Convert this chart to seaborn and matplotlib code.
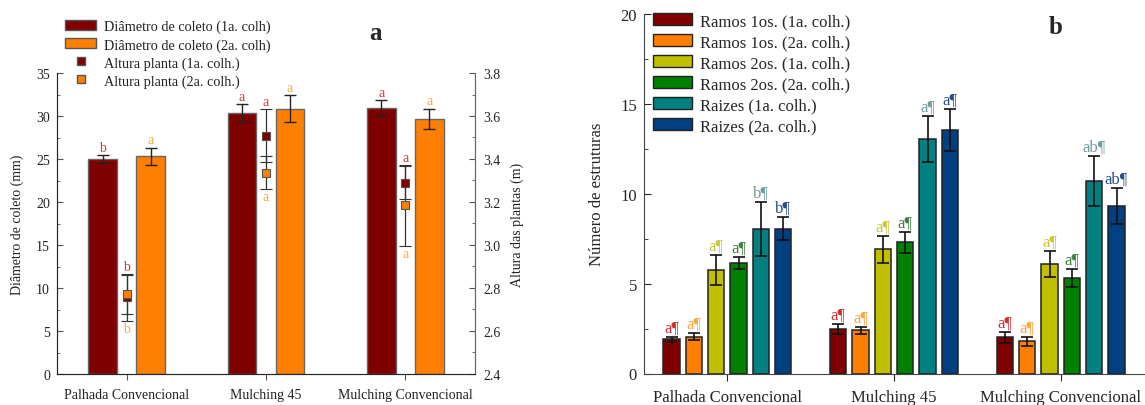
import matplotlib
matplotlib.use("Agg")
import matplotlib.pyplot as plt
from matplotlib.patches import Patch
from matplotlib.lines import Line2D
from matplotlib.ticker import MultipleLocator
import seaborn as sns
import pandas as pd
import numpy as np

sns.set_style("ticks")
plt.rcParams["font.family"] = ["Liberation Serif", "DejaVu Serif"]

categories = ["Palhada Convencional", "Mulching 45", "Mulching Convencional"]

# panel a - diametro de coleto (bars, left axis) and altura (points, right axis)
diam_1a = [25.0, 30.3, 30.9]
diam_1a_err = [0.45, 1.05, 0.95]
diam_1a_let = ["b", "a", "a"]
diam_2a = [25.3, 30.85, 29.65]
diam_2a_err = [1.0, 1.6, 1.2]
diam_2a_let = ["a", "a", "a"]
alt_1a = [2.756, 3.509, 3.29]
alt_1a_err = [0.109, 0.124, 0.078]
alt_1a_let = ["b", "a", "a"]
alt_2a = [2.77, 3.337, 3.184]
alt_2a_err = [0.091, 0.077, 0.187]
alt_2a_let = ["b", "a", "a"]

# panel b - numero de estruturas
ramos1_1a = [1.9, 2.48, 2.02]
ramos1_1a_err = [0.15, 0.28, 0.3]
ramos1_2a = [2.05, 2.4, 1.8]
ramos1_2a_err = [0.2, 0.2, 0.25]
ramos2_1a = [5.75, 6.9, 6.1]
ramos2_1a_err = [0.83, 0.74, 0.73]
ramos2_2a = [6.15, 7.3, 5.3]
ramos2_2a_err = [0.33, 0.57, 0.5]
raizes_1a = [8.05, 13.05, 10.7]
raizes_1a_err = [1.5, 1.27, 1.4]
raizes_2a = [8.05, 13.55, 9.3]
raizes_2a_err = [0.65, 1.17, 1.0]
letters_b = [["a", "a", "a"], ["a", "a", "a"], ["a", "a", "a"],
             ["a", "a", "a"], ["b", "a", "ab"], ["b", "a", "ab"]]

names_a = ["Diâmetro de coleto (1a. colh)", "Diâmetro de coleto (2a. colh)"]
names_pts = ["Altura planta (1a. colh.)", "Altura planta (2a. colh.)"]
names_b = ["Ramos 1os. (1a. colh.)", "Ramos 1os. (2a. colh.)", "Ramos 2os. (1a. colh.)",
           "Ramos 2os. (2a. colh.)", "Raizes (1a. colh.)", "Raizes (2a. colh.)"]
colors_b = ["#800000", "#ff8000", "#c0c000", "#008000", "#008080", "#004080"]
letcol_b = ["#d03030", "#ffa53a", "#c8c83a", "#3f7f3f", "#6f9d9d", "#2c4c88"]
red_let, orange_let = "#d03a3a", "#ffaa33"

df_a = pd.DataFrame({"cat": categories * 2,
                     "val": diam_1a + diam_2a,
                     "serie": [names_a[0]] * 3 + [names_a[1]] * 3})
vals_b = [ramos1_1a, ramos1_2a, ramos2_1a, ramos2_2a, raizes_1a, raizes_2a]
errs_b = [ramos1_1a_err, ramos1_2a_err, ramos2_1a_err, ramos2_2a_err, raizes_1a_err, raizes_2a_err]
df_b = pd.DataFrame({"cat": categories * 6,
                     "val": sum(vals_b, []),
                     "serie": [n for n in names_b for _ in categories]})

fig = plt.figure(figsize=(11.45, 4.06), dpi=100)
ax = fig.add_axes([57 / 1145, 31 / 406, 418 / 1145, 301 / 406])
axb = fig.add_axes([644 / 1145, 31.5 / 406, 500 / 1145, 359.5 / 406])

# ---------- panel a ----------
sns.barplot(data=df_a, x="cat", y="val", hue="serie", palette=["#800000", "#ff8000"],
            saturation=1, width=0.69, gap=0.4, errorbar=None, edgecolor="#666666", linewidth=1,
            legend=False, ax=ax)
bars = list(ax.containers)
for cont, errs, lets, lc in zip(bars, [diam_1a_err, diam_2a_err], [diam_1a_let, diam_2a_let],
                                [red_let, orange_let]):
    xs = [p.get_x() + p.get_width() / 2 for p in cont]
    ys = [p.get_height() for p in cont]
    ax.errorbar(xs, ys, yerr=errs, fmt="none", ecolor="#222222", elinewidth=1, capsize=4, capthick=1)
    for x, y, e, t in zip(xs, ys, errs, lets):
        ax.annotate(t, (x, y + e), xytext=(0, 1), textcoords="offset points",
                    ha="center", va="bottom", color=lc, fontsize=10)
ax.set_xlim(-0.5, 2.5)
ax.set_ylim(0, 35)
ax.yaxis.set_major_locator(MultipleLocator(5))
ax.yaxis.set_minor_locator(MultipleLocator(2.5))
ax.set_xlabel("")
ax.set_ylabel("Diâmetro de coleto (mm)", fontsize=10, color="#222222")
ax.yaxis.set_label_coords(-0.079, 0.5)
ax.tick_params(axis="y", direction="in", length=4, labelsize=10, pad=5, colors="#555555", labelcolor="#222222")
ax.tick_params(axis="y", which="minor", direction="in", length=2, colors="#555555")
ax.tick_params(axis="x", direction="out", length=4, labelsize=10, pad=6, colors="#555555", labelcolor="#222222")
ax.spines["top"].set_visible(False)
for s in ["left", "bottom", "right"]:
    ax.spines[s].set_color("#666666")

ax2 = ax.twinx()
xpos = np.arange(len(categories))
ax2.errorbar(xpos, alt_1a, yerr=alt_1a_err, fmt="s", color="#800000", mec="#555555", mew=0.8,
             ms=6, ecolor="#333333", elinewidth=0.9, capsize=4, capthick=0.9, zorder=3)
ax2.errorbar(xpos, alt_2a, yerr=alt_2a_err, fmt="s", color="#ff8000", mec="#555555", mew=0.8,
             ms=6, ecolor="#333333", elinewidth=0.9, capsize=4, capthick=0.9, zorder=4)
tops = np.maximum(np.add(alt_1a, alt_1a_err), np.add(alt_2a, alt_2a_err))
bottoms = np.minimum(np.subtract(alt_1a, alt_1a_err), np.subtract(alt_2a, alt_2a_err))
for x, y, t in zip(xpos, tops, alt_1a_let):
    ax2.annotate(t, (x, y), xytext=(0, 1), textcoords="offset points",
                 ha="center", va="bottom", color=red_let, fontsize=10)
for x, y, t in zip(xpos, bottoms, alt_2a_let):
    ax2.annotate(t, (x, y), xytext=(0, -1), textcoords="offset points",
                 ha="center", va="top", color=orange_let, fontsize=10)
ax2.set_ylim(2.4, 3.8)
ax2.yaxis.set_major_locator(MultipleLocator(0.2))
ax2.yaxis.set_minor_locator(MultipleLocator(0.1))
ax2.set_ylabel("Altura das plantas (m)", fontsize=10, color="#222222")
ax2.yaxis.set_label_coords(1.086, 0.5)
ax2.tick_params(axis="y", direction="in", length=4, labelsize=10, pad=6, colors="#555555", labelcolor="#222222")
ax2.tick_params(axis="y", which="minor", direction="in", length=2, colors="#555555")
ax2.spines["top"].set_visible(False)
ax2.spines["right"].set_color("#666666")

handles_a = [Patch(facecolor="#800000", edgecolor="#555555"),
             Patch(facecolor="#ff8000", edgecolor="#555555"),
             Line2D([], [], marker="s", ls="none", color="#800000", mec="#555555", ms=6),
             Line2D([], [], marker="s", ls="none", color="#ff8000", mec="#555555", ms=6)]
ax.legend(handles_a, names_a + names_pts, loc="upper left", bbox_to_anchor=(65 / 1145, 1 - 21 / 406),
          bbox_transform=fig.transFigure, frameon=False, fontsize=10.3, borderpad=0, borderaxespad=0,
          handlelength=2.2, handletextpad=0.55, labelspacing=0.32, labelcolor="#222222")
fig.text(375 / 1145, 1 - 33 / 406, "a", fontsize=18, fontweight="bold", ha="center", va="center")

# ---------- panel b ----------
sns.barplot(data=df_b, x="cat", y="val", hue="serie", palette=colors_b, saturation=1,
            width=0.804, gap=0.28, errorbar=None, edgecolor="#222222", linewidth=1.1,
            legend=False, ax=axb)
bars_b = list(axb.containers)
for cont, errs, lets, lc in zip(bars_b, errs_b, letters_b, letcol_b):
    xs = [p.get_x() + p.get_width() / 2 for p in cont]
    ys = [p.get_height() for p in cont]
    axb.errorbar(xs, ys, yerr=errs, fmt="none", ecolor="#111111", elinewidth=1.2, capsize=4, capthick=1.2)
    for x, y, e, t in zip(xs, ys, errs, lets):
        axb.annotate(t + "¶", (x, y + e), xytext=(0, 1), textcoords="offset points",
                     ha="center", va="bottom", color=lc, fontsize=12)
axb.set_xlim(-0.5, 2.5)
axb.set_ylim(0, 20)
axb.yaxis.set_major_locator(MultipleLocator(5))
axb.yaxis.set_minor_locator(MultipleLocator(2.5))
axb.set_xlabel("")
axb.set_ylabel("Número de estruturas", fontsize=12)
axb.yaxis.set_label_coords(-0.078, 0.5)
axb.tick_params(axis="y", direction="in", length=5, labelsize=12, pad=5)
axb.tick_params(axis="y", which="minor", direction="in", length=3)
axb.tick_params(axis="x", direction="out", length=5, labelsize=12, pad=6)
for s in ["top", "right"]:
    axb.spines[s].set_visible(False)
for s in ["left", "bottom"]:
    axb.spines[s].set_color("#444444")

handles_b = [Patch(facecolor=c, edgecolor="#222222") for c in colors_b]
axb.legend(handles_b, names_b, loc="upper left", bbox_to_anchor=(653 / 1145, 1 - 14 / 406),
           bbox_transform=fig.transFigure, frameon=False, fontsize=12, borderpad=0, borderaxespad=0,
           handlelength=2.35, handletextpad=0.5, labelspacing=0.3)
fig.text(1056 / 1145, 1 - 27 / 406, "b", fontsize=18, fontweight="bold", ha="center", va="center")

fig.savefig("out.png", dpi=100)
